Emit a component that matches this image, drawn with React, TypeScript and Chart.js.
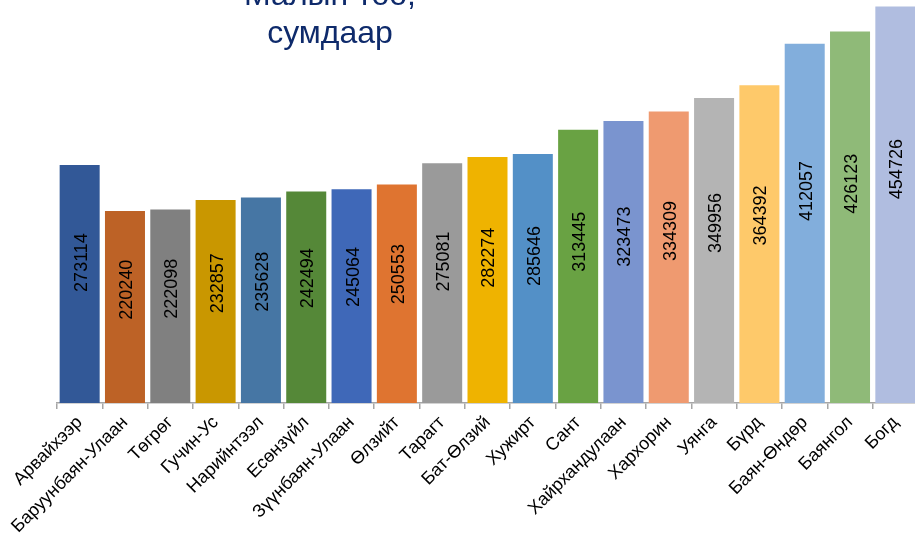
import React, { useEffect, useRef } from "react";
import { Chart, registerables } from "chart.js";

Chart.register(...registerables);

const categories = [
  "Арвайхээр",
  "Баруунбаян-Улаан",
  "Төгрөг",
  "Гучин-Ус",
  "Нарийнтээл",
  "Есөнзүйл",
  "Зүүнбаян-Улаан",
  "Өлзийт",
  "Тарагт",
  "Бат-Өлзий",
  "Хужирт",
  "Сант",
  "Хайрхандулаан",
  "Хархорин",
  "Уянга",
  "Бүрд",
  "Баян-Өндөр",
  "Баянгол",
  "Богд",
];

const values = [
  273114, 220240, 222098, 232857, 235628, 242494, 245064, 250553, 275081,
  282274, 285646, 313445, 323473, 334309, 349956, 364392, 412057, 426123,
  454726,
];

const barColors = [
  "#325897",
  "#bd6226",
  "#808080",
  "#c99700",
  "#4676a4",
  "#558838",
  "#3f68b8",
  "#df7430",
  "#9a9a9a",
  "#efb300",
  "#5390c7",
  "#69a243",
  "#7a94cf",
  "#ef9a70",
  "#b4b4b4",
  "#fec96a",
  "#82aedc",
  "#8fba78",
  "#b0bde0",
];

const titleLines = ["Малын тоо,", "сумдаар"];

const FONT = "'Liberation Sans', Arial, sans-serif";

const valueLabelPlugin = {
  id: "valueLabels",
  afterDatasetsDraw(chart: any) {
    const ctx = chart.ctx;
    const meta = chart.getDatasetMeta(0);
    ctx.save();
    ctx.font = `18px ${FONT}`;
    ctx.fillStyle = "#000000";
    ctx.textAlign = "center";
    ctx.textBaseline = "middle";
    meta.data.forEach((bar: any, i: number) => {
      const y = bar.base - (bar.base - bar.y) * 0.59;
      ctx.save();
      ctx.translate(bar.x + 2, y);
      ctx.rotate(-Math.PI / 2);
      ctx.fillText(String(values[i]), 0, 0);
      ctx.restore();
    });
    ctx.restore();
  },
};

const titlePlugin = {
  id: "overlayTitle",
  afterDraw(chart: any) {
    const ctx = chart.ctx;
    ctx.save();
    ctx.font = `32px ${FONT}`;
    ctx.fillStyle = "#0e2a6b";
    ctx.textAlign = "center";
    ctx.textBaseline = "alphabetic";
    titleLines.forEach((line, i) => {
      ctx.fillText(line, 330, 5 + i * 38);
    });
    ctx.restore();
  },
};

export default function App() {
  const canvasRef = useRef<HTMLCanvasElement | null>(null);

  useEffect(() => {
    if (!canvasRef.current) return;
    const chart = new Chart(canvasRef.current, {
      type: "bar",
      data: {
        labels: categories,
        datasets: [
          {
            data: values,
            backgroundColor: barColors,
            borderWidth: 0,
            categoryPercentage: 1,
            barPercentage: 0.883,
          },
        ],
      },
      options: {
        animation: false,
        responsive: false,
        maintainAspectRatio: false,
        devicePixelRatio: 1,
        layout: { padding: { left: 57, right: 0, top: 2, bottom: 0 } },
        plugins: {
          legend: { display: false },
          tooltip: { enabled: false },
          title: { display: false },
        },
        scales: {
          x: {
            offset: true,
            grid: {
              display: true,
              drawOnChartArea: false,
              drawTicks: true,
              tickLength: 6,
              color: "#a6a6a6",
              lineWidth: 1.5,
              offset: true,
            },
            border: { display: true, color: "#a6a6a6", width: 1.5 },
            ticks: {
              autoSkip: false,
              minRotation: 45,
              maxRotation: 45,
              color: "#000000",
              font: { family: FONT, size: 18 },
              padding: 3,
            },
            afterFit: (scale: any) => {
              scale.height = 138;
            },
          },
          y: {
            display: false,
            min: 0,
            max: 460000,
          },
        },
      },
      plugins: [valueLabelPlugin, titlePlugin],
    });
    return () => chart.destroy();
  }, []);

  return (
    <div
      style={{
        position: "fixed",
        left: 0,
        top: 0,
        width: 915,
        height: 541,
        overflow: "hidden",
        background: "#ffffff",
      }}
    >
      <canvas
        ref={canvasRef}
        width={918}
        height={541}
        style={{ display: "block", width: 918, height: 541 }}
      />
    </div>
  );
}
